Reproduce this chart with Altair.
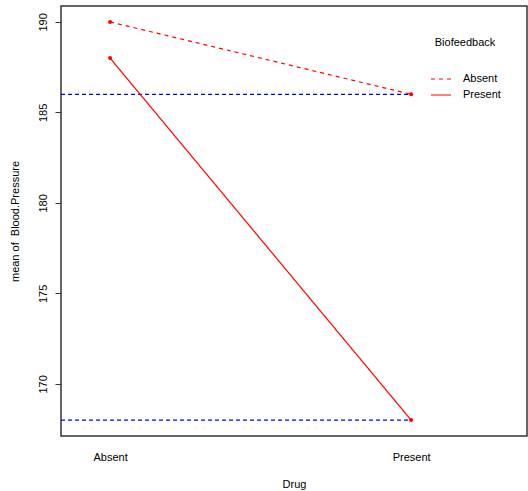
import altair as alt
import pandas as pd

drug = ["Absent", "Present"]
biofeedback_levels = ["Absent", "Present"]
bp_absent = [190, 186]
bp_present = [188, 168]
ref_levels = [186, 168]

rows = []
for i, d in enumerate(drug):
    rows.append({"Drug": d, "pos": i + 1, "Biofeedback": "Absent", "bp": bp_absent[i]})
    rows.append({"Drug": d, "pos": i + 1, "Biofeedback": "Present", "bp": bp_present[i]})
df = pd.DataFrame(rows)

ref_rows = []
for k, v in enumerate(ref_levels):
    ref_rows.append({"id": k, "pos": 0, "bp": v})
    ref_rows.append({"id": k, "pos": len(drug), "bp": v})
ref = pd.DataFrame(ref_rows)

FONT = "Liberation Sans"
xscale = alt.Scale(domain=[0.837, 2.385], nice=False, zero=False)
yscale = alt.Scale(domain=[167.12, 190.88], nice=False, zero=False)

xaxis = alt.Axis(values=[1, 2], labelExpr="datum.value == 1 ? 'Absent' : datum.value == 2 ? 'Present' : ''",
                 ticks=False, tickSize=0, domain=False, grid=False, labelPadding=15,
                 title="Drug", titleBaseline="middle", titleY=48, titleFontWeight="normal")
yaxis = alt.Axis(values=[170, 175, 180, 185, 190], labelAngle=-90, labelAlign="center",
                 labelBaseline="bottom", labelPadding=7, tickSize=6, domain=False, grid=False,
                 title="mean of\u00a0 Blood.Pressure", titleAngle=-90, titleX=-46, titleY=215,
                 titleAlign="center", titleBaseline="middle", titleFontWeight="normal")

refs = alt.Chart(ref).mark_line(color="#0000FF", strokeDash=[4, 3], strokeWidth=1.2, clip=True).encode(
    x=alt.X("pos:Q", scale=xscale, axis=xaxis),
    y=alt.Y("bp:Q", scale=yscale, axis=yaxis),
    detail="id:N",
)

lines = alt.Chart(df).mark_line(color="#FF0000", strokeWidth=1.2).encode(
    x=alt.X("pos:Q", scale=xscale),
    y=alt.Y("bp:Q", scale=yscale),
    strokeDash=alt.StrokeDash("Biofeedback:N",
                              scale=alt.Scale(domain=biofeedback_levels, range=[[4, 4], [1, 0]]),
                              legend=alt.Legend(orient="none", legendX=369, legendY=31,
                                                title="Biofeedback", titleAnchor="middle",
                                                titleFontWeight="normal", titlePadding=20,
                                                symbolType="stroke", symbolSize=400,
                                                symbolStrokeColor="#FF0000", symbolStrokeWidth=1.2,
                                                labelOffset=11, rowPadding=-12, padding=0)),
)

points = alt.Chart(df).mark_circle(color="#FF0000", size=16, opacity=1).encode(
    x=alt.X("pos:Q", scale=xscale),
    y=alt.Y("bp:Q", scale=yscale),
)

chart = alt.layer(refs, lines, points).properties(
    width=466, height=430,
    padding={"left": 61, "top": 6, "right": 1, "bottom": 55},
    autosize=alt.AutoSizeParams(type="none"),
).configure(
    font=FONT,
).configure_view(
    stroke="#333333", strokeWidth=1.5,
).configure_axis(
    labelFont=FONT, titleFont=FONT, labelFontSize=11, titleFontSize=11,
    labelColor="#000000", titleColor="#000000", tickColor="#333333",
).configure_legend(
    labelFont=FONT, titleFont=FONT, labelFontSize=11, titleFontSize=11,
    labelColor="#000000", titleColor="#000000",
)

chart.save("out.html", embed_options={"renderer": "svg", "actions": False})
